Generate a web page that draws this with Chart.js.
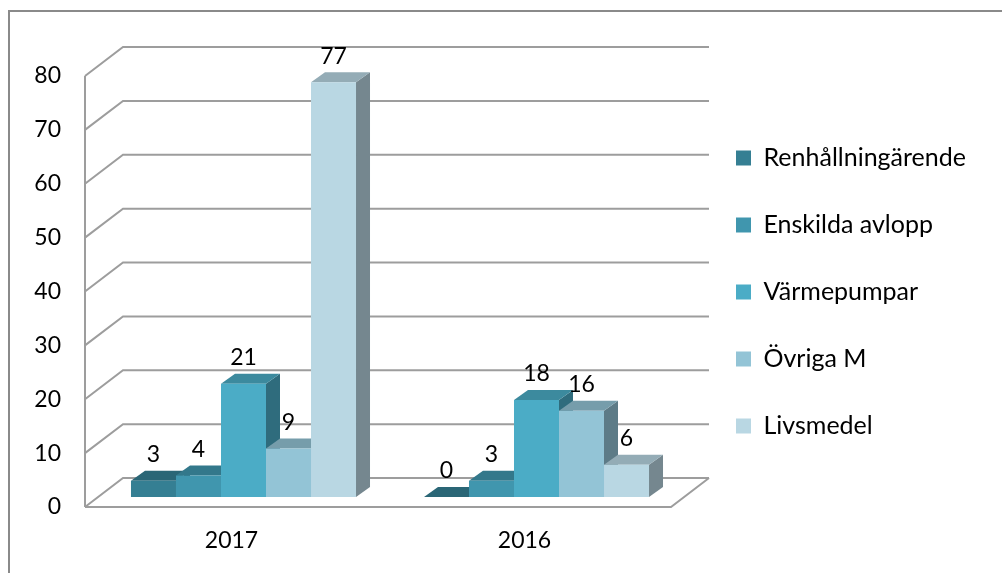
<!DOCTYPE html>
<html>
<head>
<meta charset="utf-8">
<script src="https://cdn.jsdelivr.net/npm/chart.js@4.4.1/dist/chart.umd.min.js"></script>
<style>
  html, body { margin: 0; padding: 0; background: #fff; }
  canvas { display: block; }
</style>
</head>
<body>
<canvas id="chart" width="1002" height="573"></canvas>
<script>
// data
const years = ['2017', '2016'];
const seriesNames = ['Renhållningärende', 'Enskilda avlopp', 'Värmepumpar', 'Övriga M', 'Livsmedel'];
const renhallning = [3, 0];
const enskildaAvlopp = [4, 3];
const varmepumpar = [21, 18];
const ovrigaM = [9, 16];
const livsmedel = [77, 6];
const yTicks = [0, 10, 20, 30, 40, 50, 60, 70, 80];

const colors = ['#357F93', '#4096AE', '#4BACC6', '#93C4D6', '#B9D7E3'];
const FONT = 'Lato';
const GRID = '#9d9d9d';

// fake 3D: offsets measured from the plane where the bar fronts sit
const FRONT = { dx: -12, dy: 10 };
const BACK = { dx: 26, dy: -19 };
const DEPTH = { dx: 14, dy: -10 };

function shade(hex, f) {
    const n = parseInt(hex.slice(1), 16);
    const r = Math.round(((n >> 16) & 255) * f);
    const g = Math.round(((n >> 8) & 255) * f);
    const b = Math.round((n & 255) * f);
    return 'rgb(' + r + ',' + g + ',' + b + ')';
}

function line(ctx, x1, y1, x2, y2) {
    ctx.beginPath();
    ctx.moveTo(x1, y1);
    ctx.lineTo(x2, y2);
    ctx.stroke();
}

function poly(ctx, pts, fill) {
    ctx.beginPath();
    ctx.moveTo(pts[0][0], pts[0][1]);
    for (let i = 1; i < pts.length; i++) ctx.lineTo(pts[i][0], pts[i][1]);
    ctx.closePath();
    ctx.fillStyle = fill;
    ctx.fill();
}

const frame3d = {
    id: 'frame3d',
    afterLayout(chart) {
        // put the legend where it sits in the original
        const lg = chart.legend;
        const w = lg.width;
        lg.left = 694; lg.right = 694 + w;
        lg.top = 67; lg.bottom = 517;
    },
    beforeDraw(chart) {
        const ctx = chart.ctx;
        ctx.save();
        ctx.strokeStyle = '#8a8a8a';
        ctx.lineWidth = 2;
        ctx.strokeRect(9, 11, 1200, 800);
        ctx.restore();
    },
    beforeDatasetsDraw(chart) {
        const ctx = chart.ctx;
        const a = chart.chartArea;
        const ys = chart.scales.y;
        const y0 = ys.getPixelForValue(0);
        const yTop = ys.getPixelForValue(yTicks[yTicks.length - 1]);
        ctx.save();
        ctx.strokeStyle = GRID;
        ctx.lineWidth = 2;
        ctx.lineJoin = 'miter';
        // left wall + back wall grid
        ys.ticks.forEach(t => {
            const py = ys.getPixelForValue(t.value);
            ctx.beginPath();
            ctx.moveTo(a.left + FRONT.dx, py + FRONT.dy);
            ctx.lineTo(a.left + BACK.dx, py + BACK.dy);
            ctx.lineTo(a.right + BACK.dx, py + BACK.dy);
            ctx.stroke();
        });
        line(ctx, a.left + FRONT.dx, yTop + FRONT.dy, a.left + FRONT.dx, y0 + FRONT.dy);
        // floor
        ctx.beginPath();
        ctx.moveTo(a.left + FRONT.dx, y0 + FRONT.dy);
        ctx.lineTo(a.right + FRONT.dx, y0 + FRONT.dy);
        ctx.lineTo(a.right + BACK.dx, y0 + BACK.dy);
        ctx.stroke();

        // tops and sides of bars, left to right so the fronts cover them
        for (let j = 0; j < years.length; j++) {
            chart.data.datasets.forEach((ds, i) => {
                const el = chart.getDatasetMeta(i).data[j];
                const l = el.x - el.width / 2, r = el.x + el.width / 2;
                const c = colors[i];
                poly(ctx, [[r, el.y], [r + DEPTH.dx, el.y + DEPTH.dy], [r + DEPTH.dx, el.base + DEPTH.dy], [r, el.base]], shade(c, 0.63));
                poly(ctx, [[l, el.y], [r, el.y], [r + DEPTH.dx, el.y + DEPTH.dy], [l + DEPTH.dx, el.y + DEPTH.dy]], shade(c, 0.8));
            });
        }
        ctx.restore();
    },
    afterDatasetsDraw(chart) {
        const ctx = chart.ctx;
        ctx.save();
        ctx.font = '23px ' + FONT;
        ctx.fillStyle = '#000';
        ctx.textAlign = 'center';
        ctx.textBaseline = 'middle';
        chart.data.datasets.forEach((ds, i) => {
            chart.getDatasetMeta(i).data.forEach((el, j) => {
                ctx.fillText(String(ds.data[j]), el.x, el.y - 26);
            });
        });
        ctx.restore();
    }
};

const seriesData = [renhallning, enskildaAvlopp, varmepumpar, ovrigaM, livsmedel];

new Chart(document.getElementById('chart'), {
    type: 'bar',
    data: {
        labels: years,
        datasets: seriesNames.map((name, i) => ({
            label: name,
            data: seriesData[i],
            backgroundColor: colors[i],
            borderWidth: 0,
            categoryPercentage: 0.768,
            barPercentage: 1.0
        }))
    },
    options: {
        responsive: false,
        animation: false,
        layout: { padding: { top: 66, right: 319, bottom: 18, left: 0 } },
        scales: {
            x: {
                grid: { display: false, drawTicks: false },
                border: { display: false },
                ticks: { padding: 30, labelOffset: -12, color: '#000', font: { family: FONT, size: 23 } },
                afterFit(s) { s.height = 58; }
            },
            y: {
                min: 0,
                max: 80,
                afterBuildTicks(s) { s.ticks = yTicks.map(v => ({ value: v })); },
                grid: { display: false, drawTicks: false },
                border: { display: false },
                ticks: { padding: 36, labelOffset: 10, color: '#000', font: { family: FONT, size: 23 } },
                afterFit(s) { s.width = 97; }
            }
        },
        plugins: {
            legend: {
                position: 'chartArea',
                labels: {
                    boxWidth: 15,
                    boxHeight: 15,
                    padding: 42,
                    color: '#000',
                    font: { family: FONT, size: 25 }
                }
            },
            tooltip: { enabled: false }
        }
    },
    plugins: [frame3d]
});
</script>
</body>
</html>
